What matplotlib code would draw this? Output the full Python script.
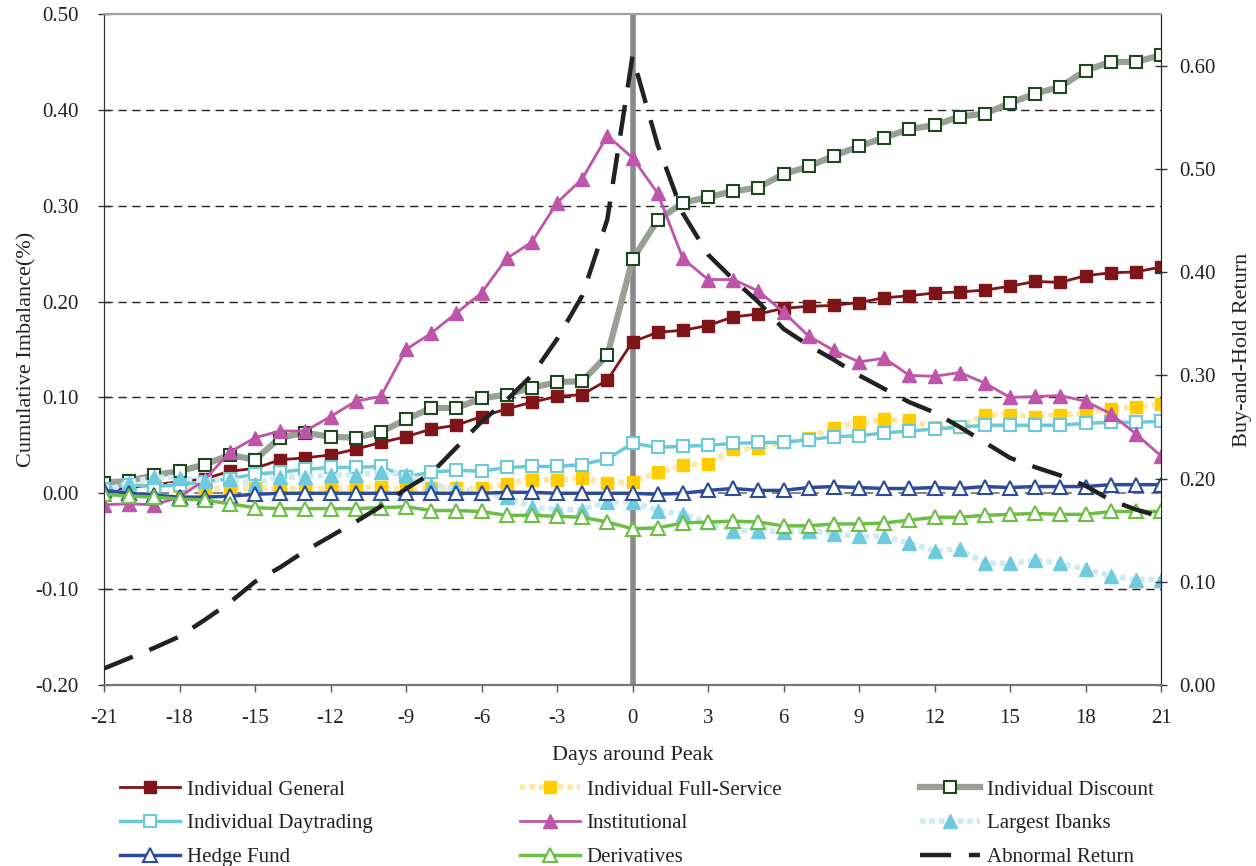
import matplotlib
matplotlib.use("Agg")
import matplotlib.pyplot as plt

plt.rcParams['font.family'] = ['Liberation Serif', 'DejaVu Serif']

days = list(range(-21, 22))

general = [0.002, 0.006, 0.009, 0.012, 0.015, 0.023, 0.026, 0.035, 0.037, 0.040, 0.046,
           0.053, 0.059, 0.067, 0.071, 0.080, 0.088, 0.095, 0.101, 0.103, 0.118,
           0.158, 0.168, 0.170, 0.175, 0.184, 0.187, 0.193, 0.195, 0.196, 0.199,
           0.204, 0.206, 0.209, 0.210, 0.212, 0.216, 0.221, 0.220, 0.227, 0.230, 0.231, 0.236]
full_service = [0.003, 0.014, 0.008, 0.008, 0.005, 0.005, 0.006, 0.005, 0.005, 0.005, 0.006,
                0.007, 0.003, 0.006, 0.005, 0.005, 0.010, 0.014, 0.014, 0.016, 0.011,
                0.012, 0.022, 0.029, 0.031, 0.046, 0.047, 0.053, 0.058, 0.068, 0.074,
                0.077, 0.076, 0.069, 0.069, 0.082, 0.082, 0.080, 0.082, 0.084, 0.088, 0.090, 0.093]
discount = [0.011, 0.013, 0.019, 0.023, 0.030, 0.040, 0.035, 0.058, 0.063, 0.059, 0.058,
            0.064, 0.077, 0.089, 0.089, 0.099, 0.103, 0.110, 0.116, 0.117, 0.144,
            0.244, 0.285, 0.303, 0.309, 0.315, 0.319, 0.333, 0.341, 0.352, 0.362,
            0.371, 0.380, 0.384, 0.393, 0.396, 0.407, 0.417, 0.424, 0.441, 0.450, 0.450, 0.457]
daytrading = [0.004, 0.009, 0.007, 0.009, 0.012, 0.015, 0.020, 0.022, 0.025, 0.027, 0.027,
              0.028, 0.017, 0.022, 0.024, 0.023, 0.027, 0.028, 0.028, 0.030, 0.036,
              0.052, 0.048, 0.049, 0.050, 0.052, 0.053, 0.053, 0.056, 0.059, 0.060,
              0.063, 0.065, 0.067, 0.069, 0.071, 0.071, 0.071, 0.071, 0.073, 0.074, 0.074, 0.075]
institutional = [-0.012, -0.011, -0.012, -0.004, 0.014, 0.043, 0.058, 0.065, 0.065, 0.080, 0.096,
                 0.101, 0.150, 0.167, 0.188, 0.209, 0.245, 0.262, 0.303, 0.328, 0.373,
                 0.350, 0.313, 0.245, 0.223, 0.223, 0.211, 0.189, 0.164, 0.149, 0.137,
                 0.141, 0.123, 0.122, 0.126, 0.115, 0.100, 0.101, 0.102, 0.096, 0.083, 0.062, 0.039]
ibanks = [0.002, 0.011, 0.017, 0.016, 0.013, 0.015, 0.010, 0.017, 0.017, 0.019, 0.019,
          0.022, 0.019, 0.009, 0.005, 0.000, -0.004, -0.014, -0.017, -0.017, -0.009,
          -0.009, -0.018, -0.022, -0.030, -0.039, -0.039, -0.040, -0.039, -0.042, -0.045,
          -0.045, -0.052, -0.060, -0.058, -0.073, -0.073, -0.070, -0.073, -0.079, -0.086, -0.090, -0.090]
hedge = [0.003, 0.000, -0.002, -0.004, -0.004, -0.003, -0.001, 0.000, 0.000, 0.000, 0.000,
         0.000, 0.000, 0.000, 0.000, 0.000, 0.001, 0.001, 0.000, 0.000, 0.000,
         0.000, -0.001, 0.000, 0.003, 0.005, 0.003, 0.003, 0.006, 0.007, 0.006,
         0.005, 0.005, 0.006, 0.005, 0.007, 0.006, 0.007, 0.007, 0.007, 0.009, 0.009, 0.009]
derivatives = [-0.001, -0.003, -0.004, -0.006, -0.007, -0.011, -0.015, -0.016, -0.016, -0.016, -0.016,
               -0.015, -0.014, -0.018, -0.018, -0.019, -0.023, -0.023, -0.024, -0.025, -0.030,
               -0.037, -0.036, -0.031, -0.030, -0.029, -0.030, -0.034, -0.034, -0.032, -0.032,
               -0.031, -0.028, -0.025, -0.025, -0.023, -0.022, -0.021, -0.022, -0.022, -0.019, -0.019, -0.019]
abnormal = [0.016, 0.026, 0.036, 0.047, 0.063, 0.080, 0.100, 0.114, 0.130, 0.144, 0.158,
            0.173, 0.190, 0.205, 0.230, 0.255, 0.276, 0.300, 0.335, 0.377, 0.451,
            0.609, 0.523, 0.457, 0.417, 0.393, 0.371, 0.345, 0.329, 0.315, 0.300,
            0.287, 0.274, 0.264, 0.250, 0.235, 0.220, 0.211, 0.203, 0.193, 0.179, 0.170, 0.163]

left_ticks = [-0.20, -0.10, 0.00, 0.10, 0.20, 0.30, 0.40, 0.50]
right_ticks = [0.00, 0.10, 0.20, 0.30, 0.40, 0.50, 0.60]
x_ticks = list(range(-21, 22, 3))
peak_day = 0

fig = plt.figure(figsize=(12.56, 8.66), dpi=100)
ax = fig.add_axes([104 / 1256, 1 - 685 / 866, 1057 / 1256, 671 / 866])
ax2 = ax.twinx()

# gridlines
for v in left_ticks[1:-1]:
    if v == 0:
        ax.axhline(v, color='#7a7a7a', lw=1.3, ls=(0, (6, 4)), zorder=0.5)
    else:
        ax.axhline(v, color='#222222', lw=1.0, ls=(0, (6, 4)), zorder=0.5)

# vertical marker at the peak day
ax.axvline(peak_day, color='#8a8a8e', lw=4.0, zorder=1)

series = [
    dict(y=general, label='Individual General', color='#7f1518', lw=2.0, ls='-',
         marker='s', ms=8, mfc='#7f1518', mec='#7f1518'),
    dict(y=full_service, label='Individual Full-Service', color='#ffe7a3', lw=4.0, ls=(0, (1, 0.7)),
         marker='s', ms=9, mfc='#ffcc00', mec='#ffcc00'),
    dict(y=discount, label='Individual Discount', color='#9aa096', lw=4.5, ls='-',
         marker='s', ms=9, mfc='white', mec='#1e4620', mew=1.5),
    dict(y=daytrading, label='Individual Daytrading', color='#6ccad8', lw=2.5, ls='-',
         marker='s', ms=9, mfc='white', mec='#6ccad8', mew=1.5),
    dict(y=institutional, label='Institutional', color='#bf55a8', lw=2.0, ls='-',
         marker='^', ms=10, mfc='#bf55a8', mec='#bf55a8'),
    dict(y=ibanks, label='Largest Ibanks', color='#cfebf2', lw=4.0, ls=(0, (1, 0.7)),
         marker='^', ms=10, mfc='#6ecadc', mec='#6ecadc'),
    dict(y=hedge, label='Hedge Fund', color='#2e4b9b', lw=2.5, ls='-',
         marker='^', ms=10, mfc='white', mec='#2e4b9b', mew=1.5),
    dict(y=derivatives, label='Derivatives', color='#6dbe45', lw=2.5, ls='-',
         marker='^', ms=10, mfc='white', mec='#6dbe45', mew=1.5),
]

handles = []
for i, s in enumerate(series):
    line, = ax.plot(days, s['y'], color=s['color'], lw=s['lw'], ls=s['ls'],
                    marker=s['marker'], ms=s['ms'], mfc=s['mfc'], mec=s['mec'],
                    mew=s.get('mew', 1.0), label=s['label'], zorder=2 + i * 0.1)
    handles.append(line)

ab_line, = ax2.plot(days, abnormal, color='#222222', lw=3.2, ls=(0, (7, 4)),
                    label='Abnormal Return', zorder=3)
handles.append(ab_line)

# axes limits and ticks
ax.set_xlim(-21, 21)
ax.set_ylim(-0.20, 0.50)
ax2.set_ylim(0.0, 0.65)
ax.set_xticks(x_ticks)
ax.set_xticklabels([str(d) for d in x_ticks])
ax.set_yticks(left_ticks)
ax.set_yticklabels([f'{v:.2f}' for v in left_ticks])
ax2.set_yticks(right_ticks)
ax2.set_yticklabels([f'{v:.2f}' for v in right_ticks])

ax.tick_params(axis='x', direction='out', length=5, width=1, color='#555555',
               labelsize=15, pad=12, labelcolor='#222222')
ax.tick_params(axis='y', direction='inout', length=9, width=1, color='#333333',
               labelsize=15, pad=14, labelcolor='#222222')
ax2.tick_params(axis='y', direction='inout', length=9, width=1, color='#333333',
                labelsize=15, pad=9, labelcolor='#222222')

for a in (ax, ax2):
    a.spines['top'].set_color('#a0a0a0')
    a.spines['top'].set_linewidth(1.5)
    a.spines['bottom'].set_color('#777777')
    a.spines['bottom'].set_linewidth(1.5)
    a.spines['left'].set_color('#333333')
    a.spines['right'].set_color('#222222')

ax.set_xlabel('Days around Peak', fontsize=16, color='#222222', labelpad=13)
ax.set_ylabel('Cumulative Imbalance(%)', fontsize=16, color='#222222', labelpad=-1)
ax2.set_ylabel('Buy-and-Hold Return', fontsize=16, color='#222222', labelpad=12)

# legend in three columns, laid out row by row
col_x = [120 / 1256, 520 / 1256, 920 / 1256]
for c in range(3):
    col_handles = [handles[c], handles[c + 3], handles[c + 6]]
    leg = fig.legend(handles=col_handles, labels=[h.get_label() for h in col_handles],
                     loc='upper left', bbox_to_anchor=(col_x[c], 1 - 780 / 866),
                     frameon=False, fontsize=15, handlelength=2.9, handletextpad=0.3,
                     labelspacing=0.68, borderpad=0.0, borderaxespad=0.0)
    for t in leg.get_texts():
        t.set_color('#222222')

fig.savefig('out.png', dpi=100)
